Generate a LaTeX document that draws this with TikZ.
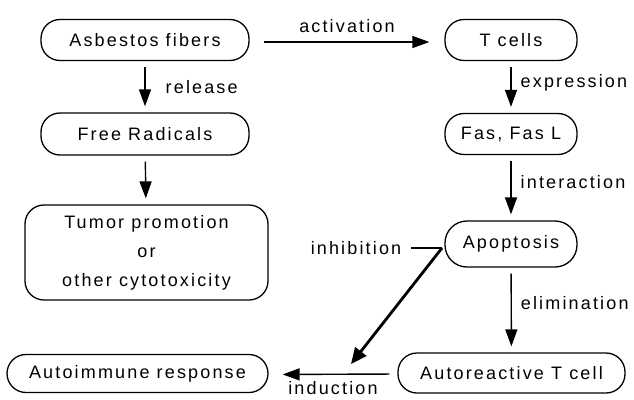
\documentclass[tikz,border=0pt]{standalone}
\usepackage{fontspec}
\setmainfont{Liberation Sans}[LetterSpace=12]
\usetikzlibrary{arrows.meta}
\begin{document}
\begin{tikzpicture}[x=1pt,y=-1pt]
    \tikzset{
        box/.style={draw, line width=1.3pt, rounded corners=19pt, inner sep=0pt,
            align=center, font=\fontsize{18}{29}\selectfont},
        lab/.style={font=\fontsize{18}{22}\selectfont, inner sep=0pt},
        arc/.style={line width=1.4pt, -{Triangle[length=17pt,width=12pt]},
            shorten <=6pt, shorten >=6pt},
        fatarc/.style={line width=2.8pt, -{Triangle[length=16pt,width=14pt]}}
    }
    \useasboundingbox (0,0) rectangle (634,399);
    \draw node[box, minimum width=208pt, minimum height=41pt] (asb) at (145,40) {Asbestos fibers};
    \draw node[box, minimum width=208pt, minimum height=42pt] (frad) at (145,134) {Free Radicals};
    \draw node[box, minimum width=243pt, minimum height=95pt] (tumor) at (146.5,252.5) {Tumor promotion\\or\\other cytotoxicity};
    \draw node[box, minimum width=132pt, minimum height=41pt] (tcell) at (511,40) {T cells};
    \draw node[box, minimum width=132pt, minimum height=41pt] (fas) at (511,134) {Fas, Fas L};
    \draw node[box, minimum width=132pt, minimum height=46pt, rounded corners=22pt] (apop) at (511,244) {Apoptosis};
    \draw node[box, minimum width=227pt, minimum height=40pt] (autot) at (511.5,373) {Autoreactive T cell};
    \draw node[box, minimum width=261pt, minimum height=38pt] (autoim) at (137.5,373.5) {Autoimmune response};
    \foreach \x/\y/\t in {%
        frad/tumor/{},tcell/fas/expression,fas/apop/interaction,apop/autot/elimination%
    }
    {
        \draw (\x) edge[arc] node[lab, pos=0.42, right=9pt] {\t} (\y);
    }
    \draw (asb) edge[arc] node[lab, right=20pt] {release} (frad);
    \draw ([yshift=-2pt]asb.east) edge[arc, shorten <=14pt, shorten >=15pt] node[lab, above=9pt] {activation} ([yshift=-2pt]tcell.west);
    \draw ([yshift=-1pt]autot.west) edge[arc, shorten <=8pt, shorten >=14pt] node[lab, below=7pt] {induction} ([yshift=-1pt]autoim.east);
    % inhibition of apoptosis
    \draw node[lab] (inh) at (356,248) {inhibition};
    \coordinate (kink) at (442,248);
    \coordinate (indtip) at (351,364);
    \draw[line width=1.4pt] ([xshift=10pt]inh.east) -- (kink);
    \draw[fatarc] (kink) -- (indtip);
\end{tikzpicture}
\end{document}
